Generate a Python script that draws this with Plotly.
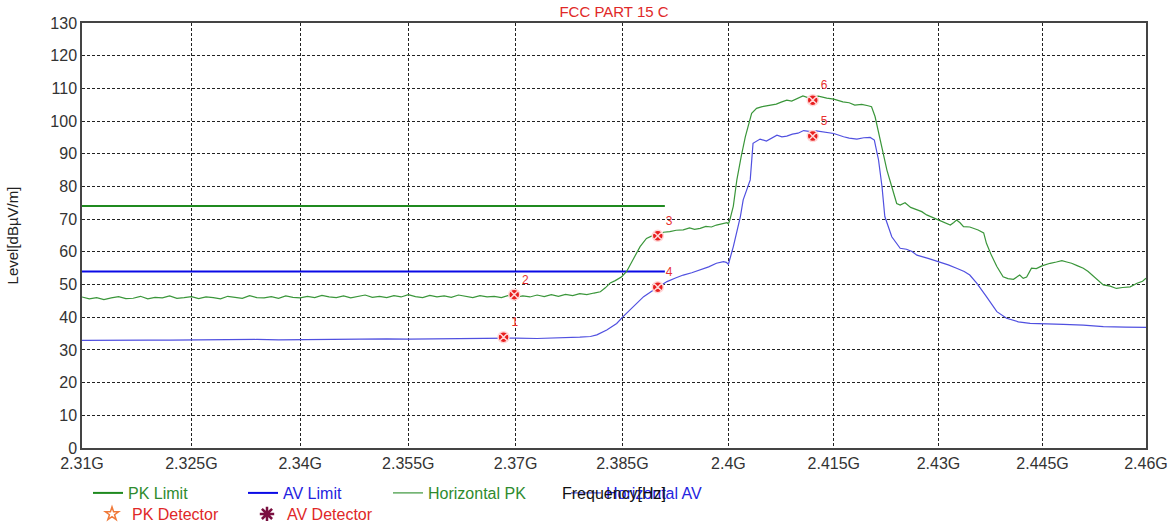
import math
import plotly.graph_objects as go

# ---- measured sweep, horizontal polarisation (frequency in GHz, level in dBuV/m) ----
pk_freq = [
    2.310, 2.311, 2.312, 2.313, 2.314, 2.315, 2.316, 2.317, 2.318, 2.319,
    2.320, 2.321, 2.322, 2.323, 2.324, 2.325, 2.326, 2.327, 2.328, 2.329,
    2.330, 2.331, 2.332, 2.333, 2.334, 2.335, 2.336, 2.337, 2.338, 2.339,
    2.340, 2.341, 2.342, 2.343, 2.344, 2.345, 2.346, 2.347, 2.348, 2.349,
    2.350, 2.351, 2.352, 2.353, 2.354, 2.355, 2.356, 2.357, 2.358, 2.359,
    2.360, 2.361, 2.362, 2.363, 2.364, 2.365, 2.366, 2.367, 2.368, 2.369,
    2.370, 2.371, 2.372, 2.373, 2.374, 2.375, 2.376, 2.377, 2.378, 2.379,
    2.380, 2.381, 2.3819, 2.3826, 2.3833, 2.3840, 2.3849, 2.3856, 2.3865, 2.3875,
    2.3884, 2.3891, 2.3900, 2.3908, 2.3917, 2.3926, 2.3936, 2.3945, 2.3952, 2.3960,
    2.3968, 2.3976, 2.3983, 2.3991, 2.3998, 2.4000, 2.4002, 2.4007, 2.4012, 2.4018,
    2.4024, 2.4033, 2.4040, 2.4048, 2.4059, 2.4068, 2.4075, 2.4083, 2.4090, 2.4097,
    2.4106, 2.4113, 2.4120, 2.4128, 2.4140, 2.4150, 2.4163, 2.4172, 2.4180, 2.4190,
    2.4199, 2.4204, 2.4209, 2.4216, 2.4223, 2.4226, 2.4233, 2.4240, 2.4245, 2.4252,
    2.4260, 2.4269, 2.4276, 2.4283, 2.4291, 2.4300, 2.4308, 2.4317, 2.4322, 2.4326,
    2.4331, 2.4336, 2.4345, 2.4357, 2.4365, 2.4369, 2.4376, 2.4384, 2.4393, 2.4400,
    2.4408, 2.4417, 2.4422, 2.4427, 2.4434, 2.4441, 2.4449, 2.4455, 2.4461, 2.4470,
    2.4478, 2.4485, 2.4492, 2.4500, 2.4509, 2.4516, 2.4524, 2.4531, 2.4538, 2.4548,
    2.4557, 2.4566, 2.4577, 2.4587, 2.4595, 2.4600,
]
pk_level = [
    46.2, 45.6, 46.0, 45.4, 45.9, 46.3, 45.7, 45.8, 46.4, 45.6,
    46.1, 45.9, 46.5, 45.8, 46.0, 46.3, 45.7, 46.2, 46.0, 45.6,
    46.4, 46.1, 45.8, 46.6, 46.0, 45.9, 46.3, 45.8, 46.5, 46.1,
    45.9, 46.4, 46.0, 46.7, 46.2, 46.0, 46.5, 45.9, 46.3, 46.8,
    46.1, 46.4, 46.0, 46.6, 46.2, 46.9, 46.3, 46.0, 46.7, 46.2,
    46.5, 46.1, 46.8, 46.3, 46.0, 46.6, 46.2, 46.4, 46.0, 46.7,
    46.1, 46.5, 46.2, 46.8, 46.3, 46.9, 46.4, 47.0, 46.6, 47.2,
    46.9, 47.4, 47.8, 49.0, 50.5, 51.2, 52.4, 54.0, 57.5, 61.6,
    64.1, 64.8, 65.0, 66.0, 66.2, 66.6, 66.7, 67.3, 66.9, 67.2,
    67.8, 67.6, 68.2, 68.6, 68.9, 68.5, 69.7, 74.0, 82.0, 89.0,
    95.2, 102.4, 103.9, 104.4, 104.9, 105.2, 105.8, 106.4, 106.1, 106.8,
    107.7, 107.2, 107.3, 107.6, 107.0, 106.7, 105.9, 105.6, 104.9, 105.1,
    104.7, 104.4, 101.4, 94.2, 88.1, 85.0, 79.9, 74.8, 74.3, 75.0,
    73.6, 72.8, 72.3, 71.3, 70.6, 69.7, 69.2, 68.2, 69.0, 69.7,
    68.9, 67.7, 67.6, 66.7, 65.8, 62.6, 59.0, 55.5, 52.4, 51.8,
    51.6, 52.9, 51.9, 52.3, 55.0, 54.9, 55.7, 56.2, 56.5, 56.9,
    57.3, 56.9, 56.5, 55.8, 55.0, 54.0, 52.4, 51.2, 49.9, 49.5,
    48.8, 49.1, 49.3, 50.4, 51.0, 51.9,
]

av_freq = [
    2.310, 2.313, 2.316, 2.319, 2.322, 2.325, 2.328, 2.331, 2.334, 2.337,
    2.340, 2.343, 2.346, 2.349, 2.352, 2.355, 2.358, 2.361, 2.364, 2.367,
    2.370, 2.373, 2.376, 2.379, 2.3805, 2.3814, 2.3828, 2.3842, 2.3851, 2.3865,
    2.3880, 2.3894, 2.3900, 2.3913, 2.3925, 2.3936, 2.3948, 2.3960, 2.3972, 2.3983,
    2.3993, 2.3997, 2.4000, 2.4007, 2.4012, 2.4017, 2.4021, 2.4031, 2.4035, 2.4045,
    2.4054, 2.4062, 2.4069, 2.4076, 2.4083, 2.4091, 2.4099, 2.4107, 2.4113, 2.4120,
    2.4125, 2.4140, 2.4150, 2.4164, 2.4172, 2.4183, 2.4193, 2.4202, 2.4208, 2.4214,
    2.4219, 2.4223, 2.4233, 2.4245, 2.4254, 2.4262, 2.4269, 2.4285, 2.4300, 2.4314,
    2.4326, 2.4337, 2.4345, 2.4355, 2.4369, 2.4384, 2.4398, 2.4415, 2.4432, 2.4451,
    2.4480, 2.4509, 2.4538, 2.4570, 2.4600,
]
av_level = [
    32.9, 33.0, 32.9, 33.0, 33.0, 33.1, 33.0, 33.1, 33.2, 33.1,
    33.2, 33.3, 33.2, 33.3, 33.4, 33.3, 33.4, 33.5, 33.4, 33.5,
    33.6, 33.5, 33.6, 33.9, 34.1, 34.6, 36.1, 38.1, 40.2, 43.2,
    46.3, 48.3, 49.2, 50.9, 52.0, 52.9, 53.6, 54.4, 55.4, 56.5,
    57.0, 56.8, 56.2, 61.6, 66.0, 70.8, 75.9, 82.0, 93.2, 94.5,
    93.9, 94.8, 95.7, 95.2, 95.4, 96.0, 96.3, 97.1, 96.9, 96.7,
    97.0, 96.6, 96.2, 95.2, 94.8, 94.5, 94.9, 95.0, 94.2, 88.1,
    79.9, 70.8, 64.6, 61.1, 60.8, 60.1, 59.0, 58.0, 57.0, 56.0,
    55.0, 54.0, 52.9, 50.4, 46.3, 41.7, 39.7, 38.6, 38.1, 37.9,
    37.8, 37.6, 37.1, 37.0, 36.9,
]

# ---- restricted band limits (below 2.39 GHz) ----
limit_freq = [2.310, 2.391]
pk_limit = [74.0, 74.0]
av_limit = [54.0, 54.0]

# ---- marker readings ----
mark_freq = [2.3683, 2.3698, 2.3900, 2.3900, 2.4120, 2.4120]
mark_level = [33.9, 46.9, 64.9, 49.2, 95.4, 106.4]
mark_label = ["1", "2", "3", "4", "5", "6"]

# ---- axes ----
x_ticks = [2.310, 2.325, 2.340, 2.355, 2.370, 2.385, 2.400, 2.415, 2.430, 2.445, 2.460]
x_tick_text = ["2.31G", "2.325G", "2.34G", "2.355G", "2.37G", "2.385G",
               "2.4G", "2.415G", "2.43G", "2.445G", "2.46G"]
y_ticks = list(range(0, 131, 10))

FONT = "Liberation Sans, Arial, sans-serif"
GREEN_LIM = "#1f8a1f"
BLUE_LIM = "#0a0ae6"
GREEN_TR = "#3a963a"
BLUE_TR = "#5050e0"

# plot area spans 23 px .. 448 px vertically inside a 525 px tall figure
PLOT_TOP, PLOT_BOTTOM, FIG_H = 23, 448, 525


def colored(text, color):
    return f"<span style='color:{color}'>{text}</span>"


fig = go.Figure()

fig.add_trace(go.Scatter(
    x=limit_freq, y=pk_limit, mode="lines", name=colored("PK Limit", "#2e8b2e"),
    line=dict(color=GREEN_LIM, width=2), legend="legend", legendwidth=110,
))
fig.add_trace(go.Scatter(
    x=limit_freq, y=av_limit, mode="lines", name=colored("AV Limit", "#2424e0"),
    line=dict(color=BLUE_LIM, width=2), legend="legend", legendwidth=100,
))
fig.add_trace(go.Scatter(
    x=pk_freq, y=pk_level, mode="lines", name=colored("Horizontal PK", "#2e8b2e"),
    line=dict(color=GREEN_TR, width=1.2), legend="legend", legendwidth=133,
))
fig.add_trace(go.Scatter(
    x=av_freq, y=av_level, mode="lines", name=colored("Horizontal AV", "#2424e0"),
    line=dict(color=BLUE_TR, width=1.2), legend="legend", legendwidth=110,
))

# detector entries (legend only)
fig.add_trace(go.Scatter(
    x=[None], y=[None], mode="markers", name=colored("PK Detector", "#e02828"),
    marker=dict(symbol="star-open", size=10, color="#f07a3a", line=dict(width=1.5)),
    legend="legend2", legendwidth=110,
))
fig.add_trace(go.Scatter(
    x=[None], y=[None], mode="markers", name=colored("AV Detector", "#e02828"),
    marker=dict(symbol="asterisk-open", size=12, color="#7a1040",
                line=dict(width=2.5, color="#7a1040")),
    legend="legend2", legendwidth=110,
))

fig.add_trace(go.Scatter(
    x=mark_freq, y=mark_level, mode="markers+text", text=mark_label,
    textposition="top right", textfont=dict(color="#e83030", size=12, family=FONT),
    marker=dict(symbol="circle-x", size=11, color="#e81e1e",
                line=dict(color="#ffd8d8", width=1.5)),
    showlegend=False, hoverinfo="skip",
))

grid_dash = "3px,2px"

fig.update_layout(
    width=1173, height=FIG_H,
    margin=dict(l=82, r=27, t=PLOT_TOP, b=FIG_H - PLOT_BOTTOM),
    paper_bgcolor="white", plot_bgcolor="white",
    font=dict(family=FONT, size=16, color="#333333"),
    title=dict(text="FCC PART 15 C", x=614 / 1173, xanchor="center",
               y=1 - 12 / FIG_H, yanchor="middle",
               font=dict(color="#e02828", size=15, family=FONT)),
    xaxis=dict(
        type="log", automargin=False,
        range=[math.log10(2.31), math.log10(2.46)],
        tickvals=x_ticks, ticktext=x_tick_text,
        showgrid=True, gridcolor="#222222", gridwidth=1, griddash=grid_dash,
        showline=True, linecolor="#444444", linewidth=1.5, mirror=True,
        ticks="", zeroline=False,
    ),
    yaxis=dict(
        range=[0, 130], tickvals=y_ticks, automargin=False,
        showgrid=True, gridcolor="#222222", gridwidth=1, griddash=grid_dash,
        showline=True, linecolor="#444444", linewidth=1.5, mirror=True,
        ticks="", zeroline=False,
        title=dict(text="Level[dBµV/m]", standoff=28,
                   font=dict(color="#222222", size=15, family=FONT)),
    ),
    legend=dict(
        orientation="h", xref="container", yref="container",
        x=88 / 1173, xanchor="left", y=1 - 493 / FIG_H, yanchor="middle",
        font=dict(size=16, family=FONT), bgcolor="rgba(0,0,0,0)",
    ),
    legend2=dict(
        orientation="h", xref="container", yref="container",
        x=92 / 1173, xanchor="left", y=1 - 514 / FIG_H, yanchor="middle",
        font=dict(size=16, family=FONT), bgcolor="rgba(0,0,0,0)",
    ),
    showlegend=True,
)

# x-axis caption sits on the first legend row
fig.add_annotation(
    text="Frequency[Hz]", xref="paper", x=0.5, xanchor="center",
    yref="paper", y=(PLOT_BOTTOM - 493) / (PLOT_BOTTOM - PLOT_TOP), yanchor="middle",
    showarrow=False, font=dict(color="#111111", size=16, family=FONT),
)

fig.write_html("out.html")
